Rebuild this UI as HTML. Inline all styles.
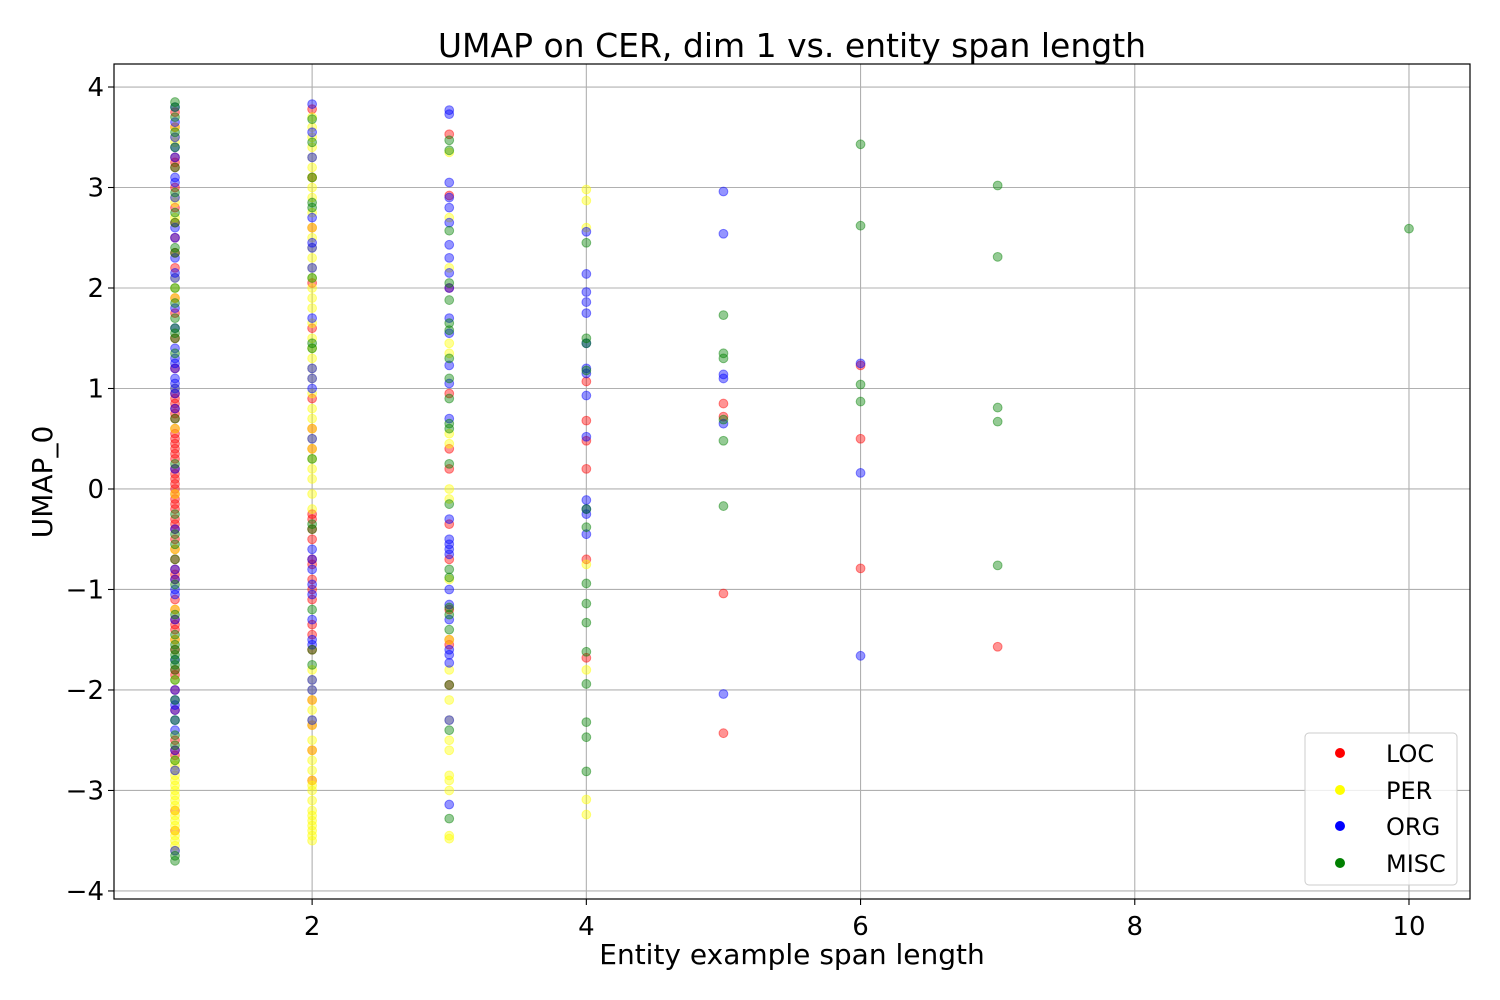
<!DOCTYPE html>
<html><head><meta charset="utf-8"><style>
html,body{margin:0;padding:0;background:#fff;}
svg{display:block;font-family:"DejaVu Sans","Liberation Sans",sans-serif;}
</style></head><body>
<svg id="chart" width="1500" height="1000">
<rect width="1500" height="1000" fill="#fff"/>
<g id="grid"></g>
<g id="points"></g>
<rect x="114" y="64" width="1356" height="835" fill="none" stroke="#000" stroke-width="1.2"/>
<g id="xticks"></g>
<g id="yticks"></g>
<text x="792" y="57" text-anchor="middle" font-size="33">UMAP on CER, dim 1 vs. entity span length</text>
<text x="792" y="964" text-anchor="middle" font-size="28">Entity example span length</text>
<text transform="translate(52,482) rotate(-90)" text-anchor="middle" font-size="28">UMAP_0</text>
<g>
<rect x="1305" y="733" width="152" height="152" rx="4" fill="#fff" fill-opacity="0.8" stroke="#ccc"/>
<g><circle cx="1340" cy="753" r="5" fill="red"/><text x="1386" y="762" font-size="24">LOC</text></g>
<g><circle cx="1340" cy="790" r="5" fill="yellow"/><text x="1386" y="799" font-size="24">PER</text></g>
<g><circle cx="1340" cy="826" r="5" fill="blue"/><text x="1386" y="835" font-size="24">ORG</text></g>
<g><circle cx="1340" cy="863" r="5" fill="green"/><text x="1386" y="872" font-size="24">MISC</text></g>
</g>
</svg>
<script>
const xTicks = [2,4,6,8,10];
const yTicks = [-4,-3,-2,-1,0,1,2,3,4];
const classNames = ["LOC","PER","ORG","MISC"];
const classColors = ["red","yellow","blue","green"];
// y values by span length, per class
const locX1 = [3.75,3.6,3.3,3.25,3.2,3.0,2.8,2.65,2.5,2.35,2.2,1.9,1.75,1.5,1.2,0.95,0.9,0.85,0.8,0.75,0.7,0.6,0.55,0.5,0.45,0.4,0.35,0.3,0.2,0.15,0.1,0.05,0,-0.05,-0.1,-0.15,-0.2,-0.3,-0.35,-0.4,-0.5,-0.6,-0.7,-0.8,-0.85,-0.9,-1.1,-1.2,-1.3,-1.35,-1.4,-1.5,-1.6,-1.8,-1.85,-2.0,-2.2,-2.5,-2.6,-2.65,-3.2,-3.4];
const perX1 = [3.6,3.5,3.45,2.9,2.85,2.7,2.1,2.0,1.9,1.0,0.6,-0.05,-0.6,-1.2,-1.5,-1.9,-2.7,-2.75,-2.8,-2.85,-2.9,-2.95,-3.0,-3.05,-3.1,-3.15,-3.2,-3.25,-3.3,-3.35,-3.4,-3.45,-3.5,-3.55,-3.6];
const orgX1 = [3.8,3.65,3.5,3.4,3.3,3.1,3.05,2.9,2.6,2.5,2.3,2.15,2.1,1.8,1.6,1.4,1.3,1.25,1.2,1.1,1.05,1.0,0.95,0.8,0.2,-0.4,-0.8,-0.9,-1.0,-1.05,-1.3,-1.7,-2.0,-2.1,-2.15,-2.2,-2.3,-2.4,-2.6,-2.8,-3.6];
const miscX1 = [3.85,3.8,3.7,3.55,3.4,3.2,2.95,2.75,2.65,2.4,2.35,2.0,1.85,1.7,1.6,1.55,1.5,1.35,0.7,0.25,-0.25,-0.45,-0.55,-0.7,-0.95,-1.25,-1.45,-1.55,-1.6,-1.65,-1.7,-1.75,-1.8,-1.9,-2.1,-2.3,-2.45,-2.55,-2.7,-3.65,-3.7];
const locX2 = [3.78,3.1,2.6,2.05,1.6,0.9,0.6,0.4,-0.25,-0.3,-0.4,-0.5,-0.7,-0.75,-0.9,-1.0,-1.1,-1.35,-1.45,-1.6,-2.1,-2.35,-2.6,-2.9];
const perX2 = [3.7,3.6,3.5,3.4,3.3,3.2,3.1,3.0,2.9,2.75,2.6,2.5,2.4,2.3,2.2,2.1,2.0,1.9,1.8,1.65,1.5,1.4,1.3,1.2,1.1,0.95,0.8,0.7,0.6,0.5,0.4,0.3,0.2,0.1,-0.05,-0.2,-1.8,-1.9,-2.0,-2.1,-2.2,-2.3,-2.35,-2.5,-2.6,-2.7,-2.8,-2.9,-2.95,-3.0,-3.1,-3.2,-3.25,-3.3,-3.35,-3.4,-3.45,-3.5];
const orgX2 = [3.83,3.55,3.3,2.7,2.45,2.4,2.2,1.7,1.2,1.1,1.0,0.5,-0.6,-0.7,-0.8,-0.95,-1.05,-1.3,-1.5,-1.55,-1.9,-2.0,-2.3];
const miscX2 = [3.68,3.45,3.1,2.85,2.8,2.1,1.45,1.4,0.3,-0.35,-0.4,-1.2,-1.6,-1.75];
const locX3 = [3.53,2.92,2.0,0.95,0.4,0.2,-0.35,-0.7,-1.2,-1.5,-1.55,-1.95];
const perX3 = [3.35,2.7,2.2,1.45,1.35,0.55,0.45,0.0,-0.1,-0.9,-1.5,-1.8,-2.1,-2.3,-2.5,-2.6,-2.85,-2.9,-3.0,-3.45,-3.48];
const orgX3 = [3.77,3.73,3.05,2.9,2.8,2.65,2.43,2.3,2.15,2.0,1.7,1.55,1.23,1.05,0.7,-0.3,-0.5,-0.55,-0.6,-0.65,-1.0,-1.15,-1.3,-1.6,-1.65,-1.73,-2.3,-3.14];
const miscX3 = [3.47,3.37,2.57,2.05,1.88,1.65,1.58,1.3,1.1,0.9,0.65,0.6,0.25,-0.15,-0.8,-0.88,-1.18,-1.25,-1.4,-1.95,-2.4,-3.28];
const locX4 = [1.07,0.68,0.48,0.2,-0.7,-1.68];
const perX4 = [2.98,2.87,2.6,-0.75,-1.8,-3.09,-3.24];
const orgX4 = [2.56,2.14,1.96,1.86,1.75,1.45,1.2,1.15,0.93,0.52,-0.11,-0.2,-0.25,-0.45];
const miscX4 = [2.45,1.5,1.45,1.18,-0.2,-0.38,-0.94,-1.14,-1.33,-1.62,-1.94,-2.32,-2.47,-2.81];
const locX5 = [0.85,0.72,-1.04,-2.43];
const orgX5 = [2.96,2.54,1.14,1.1,0.65,-2.04];
const miscX5 = [1.73,1.35,1.3,0.69,0.48,-0.17];
const locX6 = [1.23,0.5,-0.79];
const orgX6 = [1.25,0.16,-1.66];
const miscX6 = [3.43,2.62,1.04,0.87];
const locX7 = [-1.57];
const miscX7 = [3.02,2.31,0.81,0.67,-0.76];
const miscX10 = [2.59];

const series = [
 [1,locX1,perX1,orgX1,miscX1],[2,locX2,perX2,orgX2,miscX2],[3,locX3,perX3,orgX3,miscX3],
 [4,locX4,perX4,orgX4,miscX4],[5,locX5,[],orgX5,miscX5],[6,locX6,[],orgX6,miscX6],
 [7,locX7,[],[],miscX7],[10,[],[],[],miscX10]
];
const L=114,R=1470,T=64,B=899, X0=0.555,X1=10.445,Y0=-4.08,Y1=4.229;
const sx=v=>L+(v-X0)/(X1-X0)*(R-L);
const sy=v=>B-(v-Y0)/(Y1-Y0)*(B-T);
const NS="http://www.w3.org/2000/svg";
function mk(tag,attrs,parent){const e=document.createElementNS(NS,tag);for(const k in attrs)e.setAttribute(k,attrs[k]);parent.appendChild(e);return e;}
const grid=document.getElementById('grid'),xt=document.getElementById('xticks'),yt=document.getElementById('yticks'),pts=document.getElementById('points');
xTicks.forEach(t=>{
 const x=sx(t);
 const g=mk('line',{x1:x,x2:x,y1:T,y2:B,stroke:'#b0b0b0','stroke-width':1.1},grid);
 
 
 mk('line',{x1:x,x2:x,y1:B,y2:B+6,stroke:'#000','stroke-width':1.1},xt);
 const tx=mk('text',{x:x,y:B+36,'text-anchor':'middle','font-size':26},xt);
 tx.textContent=t;
 
 
});
yTicks.forEach(t=>{
 const y=sy(t);
 const g=mk('line',{x1:L,x2:R,y1:y,y2:y,stroke:'#b0b0b0','stroke-width':1.1},grid);
 
 
 mk('line',{x1:L-6,x2:L,y1:y,y2:y,stroke:'#000','stroke-width':1.1},yt);
 const tx=mk('text',{x:L-10,y:y+9,'text-anchor':'end','font-size':26},yt);
 tx.textContent=t<0?'\u2212'+(-t):t;
 
 
});
series.forEach(s=>{
 const xv=s[0];
 for(let c=0;c<4;c++){
  s[c+1].forEach(v=>{
   const p=mk('circle',{cx:sx(xv),cy:sy(v),r:4.4,fill:classColors[c],'fill-opacity':0.42,stroke:classColors[c],'stroke-opacity':0.45,'stroke-width':1},pts);
   
   
  });
 }
});
</script>
</body></html>
